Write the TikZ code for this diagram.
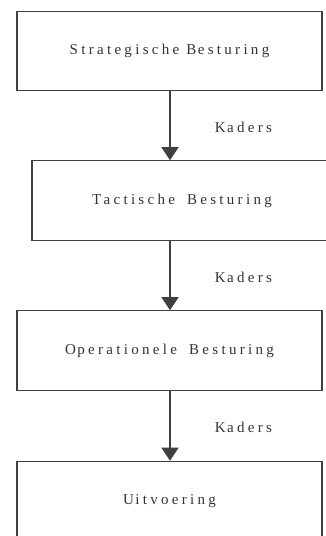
\documentclass[tikz,border=0pt]{standalone}
\usepackage{fontspec}
\usetikzlibrary{arrows.meta}
% Times-metric serif with wide tracking for all labels
\newfontfamily\trackfont[LetterSpace=22]{Liberation Serif}
\definecolor{inkline}{HTML}{404040}
\definecolor{inktext}{HTML}{333333}
\begin{document}
\begin{tikzpicture}[x=1pt,y=-1pt,
  levelbox/.style={draw=inkline, line width=1.1pt, fill=white,
    minimum width=305pt, minimum height=79.5pt, inner sep=0pt,
    text=inktext, font=\trackfont\fontsize{15}{18}\selectfont},
  flow/.style={draw=inkline, line width=1.1pt,
    -{Triangle[width=17pt,length=13pt]}},
  flowlabel/.style={text=inktext, font=\trackfont\fontsize{15}{18}\selectfont, inner sep=0pt}]
  \clip (0,0) rectangle (326,536);
  \fill[white] (0,0) rectangle (326,536);

  % the four steering levels
  \node[levelbox] (b1) at (169.5,51) {Strategische B\kern1.5pt esturing};
  \node[levelbox, minimum width=300pt] (b2) at (182,200.5) {Tactische\hspace{5pt} Besturing};
  \node[levelbox] (b3) at (169.5,350.5) {O\kern1.5pt perationele\hspace{5pt} Besturing};
  \node[levelbox] (b4) at (169.5,501) {U\kern1.5pt itvoering};

  % shared arrow column
  \coordinate (ax) at (170,0);
  \draw[flow] (b1.south -| ax) -- (b2.north -| ax);
  \draw[flow] (b2.south -| ax) -- (b3.north -| ax);
  \draw[flow] (b3.south -| ax) -- (b4.north -| ax);

  % framework labels beside the arrows
  \node[flowlabel] (k1) at (243.5,127) {K\kern1.5pt aders};
  \node[flowlabel] (k2) at (243.5,277.5) {K\kern1.5pt aders};
  \node[flowlabel] (k3) at (243.5,427.5) {K\kern1.5pt aders};
\end{tikzpicture}
\end{document}
